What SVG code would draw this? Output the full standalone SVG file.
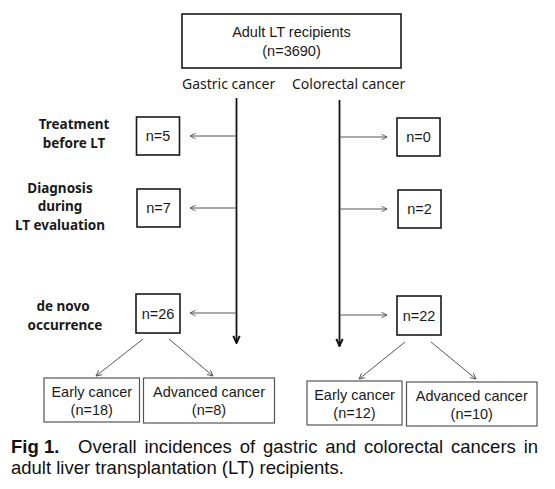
<svg xmlns="http://www.w3.org/2000/svg" width="555" height="489" viewBox="0 0 555 489">
<style>
.bx{fill:#fff;stroke:#1a1a1a;stroke-width:1.6}
.bb{fill:#fff;stroke:#555;stroke-width:1.2}
.t{font-family:"Liberation Sans",Arial,sans-serif;font-size:14.5px;fill:#1a1a1a;text-anchor:middle}
.k{font-family:"Noto Sans","Liberation Sans",sans-serif;font-size:14px;fill:#1a1a1a}
.lb{font-family:"Noto Sans","Liberation Sans",sans-serif;font-size:13.5px;font-weight:bold;fill:#1a1a1a;text-anchor:middle}
.cap{font-family:"Liberation Sans",Arial,sans-serif;font-size:18.5px;fill:#111}
.thin{stroke:#555;stroke-width:1;fill:none}
.main{stroke:#111;stroke-width:1.8;fill:none}
</style>
<defs>
<marker id="ah" viewBox="0 0 10 10" refX="9" refY="5" markerWidth="7" markerHeight="7" markerUnits="userSpaceOnUse" orient="auto">
<path d="M1,1 L9,5 L1,9" fill="none" stroke="#555" stroke-width="1.3"/>
</marker>
<marker id="ahb" viewBox="0 0 10 10" refX="9" refY="5" markerWidth="9" markerHeight="9" markerUnits="userSpaceOnUse" orient="auto">
<path d="M1,1.5 L9,5 L1,8.5" fill="none" stroke="#111" stroke-width="2.2"/>
</marker>
</defs>
<rect width="555" height="489" fill="#fff"/>

<g id="root">
<rect class="bx" x="182" y="14" width="219" height="54"/>
<text class="t" x="291.5" y="37">Adult LT recipients</text>
<text class="t" x="291.5" y="56">(n=3690)</text>
</g>

<g id="branch-labels">
<text class="k" x="182" y="89">Gastric cancer</text>
<text class="k" x="292" y="89">Colorectal cancer</text>
</g>

<g id="row-labels">
<text class="lb" x="74" y="129">Treatment</text>
<text class="lb" x="74" y="148">before LT</text>
<text class="lb" x="60" y="193">Diagnosis</text>
<text class="lb" x="60" y="211">during</text>
<text class="lb" x="60" y="230">LT evaluation</text>
<text class="lb" x="63" y="311">de novo</text>
<text class="lb" x="65" y="330">occurrence</text>
</g>

<g id="g-n5"><rect class="bx" x="136.5" y="117" width="43" height="38"/><text class="t" x="158" y="141">n=5</text></g>
<g id="c-n0"><rect class="bx" x="397" y="118" width="43" height="38"/><text class="t" x="418.5" y="142">n=0</text></g>
<g id="g-n7"><rect class="bx" x="137" y="189" width="43" height="38"/><text class="t" x="158.5" y="213">n=7</text></g>
<g id="c-n2"><rect class="bx" x="398" y="190" width="43" height="38"/><text class="t" x="419.5" y="214">n=2</text></g>
<g id="g-n26"><rect class="bx" x="136" y="294" width="44" height="39"/><text class="t" x="158" y="318.5">n=26</text></g>
<g id="c-n22"><rect class="bx" x="397" y="296" width="44" height="39"/><text class="t" x="419" y="320.5">n=22</text></g>

<g id="g-early"><rect class="bb" x="44" y="378" width="95.5" height="44"/><text class="t" x="91.75" y="396.5">Early cancer</text><text class="t" x="91.75" y="415">(n=18)</text></g>
<g id="g-adv"><rect class="bb" x="143.5" y="378" width="131" height="45"/><text class="t" x="209" y="396.5">Advanced cancer</text><text class="t" x="209" y="415">(n=8)</text></g>
<g id="c-early"><rect class="bb" x="307" y="381" width="95" height="44"/><text class="t" x="354.5" y="399.5">Early cancer</text><text class="t" x="354.5" y="418">(n=12)</text></g>
<g id="c-adv"><rect class="bb" x="406.5" y="382" width="130.5" height="44"/><text class="t" x="471.75" y="400.5">Advanced cancer</text><text class="t" x="471.75" y="419">(n=10)</text></g>

<g id="connectors">
<line class="main" x1="236.5" y1="98" x2="236.5" y2="343" marker-end="url(#ahb)"/>
<line class="main" x1="339.5" y1="100" x2="339.5" y2="346" marker-end="url(#ahb)"/>
<line class="thin" x1="236.5" y1="136" x2="190" y2="136" marker-end="url(#ah)"/>
<line class="thin" x1="236.5" y1="208" x2="190" y2="208" marker-end="url(#ah)"/>
<line class="thin" x1="236.5" y1="313" x2="190" y2="313" marker-end="url(#ah)"/>
<line class="thin" x1="339.5" y1="137" x2="387" y2="137" marker-end="url(#ah)"/>
<line class="thin" x1="339.5" y1="209" x2="387" y2="209" marker-end="url(#ah)"/>
<line class="thin" x1="339.5" y1="315" x2="387" y2="315" marker-end="url(#ah)"/>
<line class="thin" x1="143" y1="339" x2="96" y2="376" marker-end="url(#ah)"/>
<line class="thin" x1="169" y1="339" x2="213" y2="376" marker-end="url(#ah)"/>
<line class="thin" x1="405" y1="342" x2="359" y2="379" marker-end="url(#ah)"/>
<line class="thin" x1="431" y1="342" x2="476" y2="379" marker-end="url(#ah)"/>
</g>

<g id="caption">
<text class="cap" x="11" y="453"><tspan font-weight="bold">Fig 1.</tspan></text>
<text class="cap" x="78" y="453" word-spacing="2.7">Overall incidences of gastric and colorectal cancers in</text>
<text class="cap" x="11" y="474">adult liver transplantation (LT) recipients.</text>
</g>
</svg>
